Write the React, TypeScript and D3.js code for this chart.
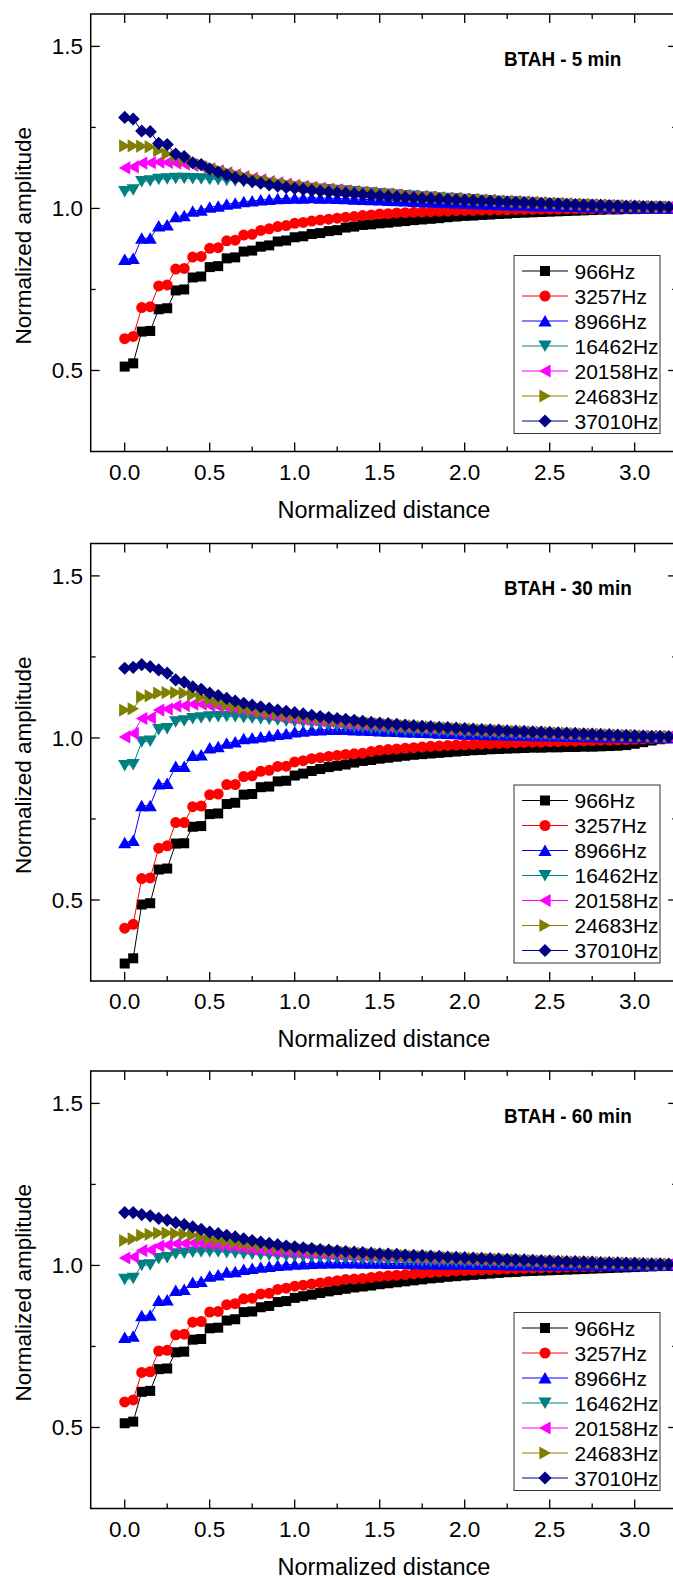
import React from "react";
import * as d3 from "d3";

// ---------- data ----------
const distance = [0,0.05,0.1,0.15,0.2,0.25,0.3,0.35,0.4,0.45,0.5,0.55,0.6,0.65,0.7,0.75,0.8,0.85,0.9,0.95,1,1.05,1.1,1.15,1.2,1.25,1.3,1.35,1.4,1.45,1.5,1.55,1.6,1.65,1.7,1.75,1.8,1.85,1.9,1.95,2,2.05,2.1,2.15,2.2,2.25,2.3,2.35,2.4,2.45,2.5,2.55,2.6,2.65,2.7,2.75,2.8,2.85,2.9,2.95,3,3.05,3.1,3.15,3.2];

const frequencies = ["966Hz", "3257Hz", "8966Hz", "16462Hz", "20158Hz", "24683Hz", "37010Hz"];
const panelTitles = ["BTAH - 5 min", "BTAH - 30 min", "BTAH - 60 min"];
const xTickLabels = [0, 0.5, 1.0, 1.5, 2.0, 2.5, 3.0];
const yTickLabels = [0.5, 1.0, 1.5];

// 5 min
const t5_966 = [0.512,0.522,0.620,0.622,0.689,0.692,0.747,0.750,0.787,0.790,0.819,0.822,0.846,0.849,0.867,0.870,0.882,0.886,0.898,0.901,0.911,0.914,0.921,0.924,0.930,0.933,0.941,0.944,0.949,0.951,0.954,0.956,0.959,0.961,0.964,0.966,0.968,0.970,0.973,0.975,0.977,0.978,0.980,0.981,0.983,0.984,0.986,0.987,0.988,0.989,0.990,0.991,0.992,0.993,0.994,0.995,0.996,0.997,0.997,0.998,0.998,0.999,0.999,1.000,1.000];
const t5_3257 = [0.598,0.605,0.694,0.697,0.761,0.764,0.813,0.815,0.850,0.852,0.877,0.879,0.900,0.902,0.918,0.920,0.932,0.937,0.944,0.947,0.954,0.957,0.961,0.964,0.967,0.970,0.973,0.975,0.978,0.980,0.983,0.984,0.986,0.987,0.988,0.989,0.990,0.991,0.992,0.993,0.994,0.994,0.995,0.995,0.996,0.996,0.997,0.997,0.997,0.998,0.998,0.998,0.999,0.999,0.999,0.999,1.000,1.000,1.000,1.000,1.000,1.000,1.000,1.000,1.000];
const t5_8966 = [0.843,0.846,0.908,0.908,0.946,0.949,0.975,0.978,0.992,0.995,1.004,1.007,1.013,1.016,1.021,1.023,1.026,1.028,1.030,1.031,1.032,1.032,1.033,1.032,1.032,1.031,1.030,1.029,1.028,1.027,1.026,1.025,1.024,1.023,1.022,1.021,1.020,1.019,1.018,1.017,1.016,1.015,1.014,1.013,1.012,1.011,1.010,1.010,1.009,1.008,1.008,1.007,1.006,1.006,1.005,1.005,1.004,1.004,1.003,1.003,1.002,1.002,1.002,1.001,1.001];
const t5_16462 = [1.052,1.057,1.083,1.085,1.090,1.091,1.093,1.093,1.092,1.091,1.090,1.089,1.087,1.085,1.083,1.080,1.078,1.075,1.073,1.070,1.067,1.065,1.062,1.060,1.058,1.056,1.054,1.052,1.050,1.048,1.046,1.044,1.042,1.040,1.038,1.036,1.035,1.033,1.031,1.030,1.028,1.027,1.025,1.024,1.022,1.021,1.020,1.019,1.017,1.016,1.015,1.014,1.013,1.012,1.011,1.010,1.009,1.008,1.007,1.006,1.006,1.005,1.004,1.004,1.003];
const t5_20158 = [1.125,1.128,1.140,1.141,1.143,1.142,1.140,1.137,1.133,1.128,1.122,1.116,1.110,1.104,1.098,1.093,1.088,1.083,1.079,1.075,1.071,1.068,1.065,1.062,1.059,1.057,1.054,1.052,1.050,1.048,1.046,1.044,1.042,1.040,1.038,1.037,1.035,1.033,1.032,1.030,1.029,1.027,1.026,1.025,1.023,1.022,1.021,1.020,1.019,1.017,1.016,1.015,1.014,1.013,1.012,1.011,1.010,1.009,1.008,1.008,1.007,1.006,1.005,1.005,1.004];
const t5_24683 = [1.193,1.193,1.192,1.190,1.178,1.168,1.160,1.152,1.144,1.136,1.128,1.120,1.113,1.106,1.100,1.094,1.089,1.084,1.080,1.076,1.072,1.069,1.066,1.063,1.060,1.058,1.055,1.053,1.051,1.049,1.047,1.045,1.043,1.041,1.039,1.038,1.036,1.034,1.033,1.031,1.030,1.028,1.027,1.026,1.024,1.023,1.022,1.021,1.019,1.018,1.017,1.016,1.015,1.014,1.013,1.012,1.011,1.010,1.009,1.008,1.007,1.006,1.006,1.005,1.004];
const t5_37010 = [1.281,1.276,1.239,1.237,1.201,1.197,1.168,1.160,1.141,1.135,1.122,1.112,1.103,1.095,1.089,1.083,1.078,1.073,1.069,1.065,1.062,1.059,1.056,1.053,1.051,1.049,1.047,1.045,1.043,1.041,1.039,1.037,1.036,1.034,1.033,1.031,1.030,1.029,1.027,1.026,1.025,1.024,1.023,1.022,1.021,1.020,1.019,1.018,1.017,1.016,1.015,1.014,1.013,1.012,1.011,1.010,1.010,1.009,1.008,1.007,1.007,1.006,1.005,1.005,1.004];

// 30 min
const t30_966 = [0.304,0.320,0.486,0.490,0.594,0.597,0.674,0.675,0.726,0.728,0.765,0.767,0.796,0.800,0.825,0.827,0.848,0.850,0.866,0.868,0.884,0.890,0.898,0.904,0.910,0.914,0.918,0.924,0.929,0.932,0.936,0.939,0.942,0.945,0.948,0.950,0.952,0.954,0.956,0.958,0.960,0.962,0.963,0.965,0.966,0.967,0.968,0.969,0.970,0.970,0.971,0.971,0.972,0.972,0.973,0.973,0.974,0.975,0.976,0.978,0.982,0.987,0.992,0.996,0.999];
const t30_3257 = [0.413,0.425,0.566,0.568,0.660,0.667,0.739,0.739,0.788,0.790,0.825,0.827,0.856,0.856,0.881,0.883,0.897,0.900,0.912,0.913,0.926,0.930,0.936,0.939,0.943,0.946,0.949,0.951,0.953,0.958,0.962,0.964,0.966,0.968,0.970,0.972,0.974,0.975,0.977,0.978,0.979,0.980,0.981,0.982,0.983,0.984,0.985,0.986,0.987,0.987,0.988,0.989,0.990,0.990,0.991,0.992,0.993,0.993,0.994,0.995,0.996,0.997,0.998,0.999,1.000];
const t30_8966 = [0.677,0.684,0.791,0.791,0.858,0.860,0.912,0.912,0.946,0.948,0.969,0.973,0.984,0.988,0.998,1.000,1.003,1.006,1.011,1.013,1.019,1.021,1.024,1.025,1.026,1.026,1.026,1.025,1.024,1.023,1.022,1.021,1.020,1.019,1.018,1.017,1.016,1.015,1.014,1.013,1.012,1.012,1.011,1.010,1.010,1.009,1.008,1.008,1.007,1.007,1.006,1.006,1.005,1.005,1.004,1.004,1.003,1.003,1.003,1.002,1.002,1.002,1.001,1.001,1.001];
const t30_16462 = [0.915,0.918,0.988,0.990,1.026,1.029,1.050,1.053,1.060,1.062,1.065,1.066,1.067,1.066,1.063,1.061,1.059,1.057,1.055,1.052,1.050,1.048,1.046,1.043,1.040,1.038,1.036,1.033,1.030,1.028,1.027,1.026,1.024,1.023,1.022,1.021,1.020,1.019,1.018,1.017,1.016,1.015,1.014,1.013,1.012,1.012,1.011,1.010,1.010,1.009,1.008,1.008,1.007,1.007,1.006,1.006,1.005,1.005,1.004,1.004,1.003,1.003,1.002,1.002,1.002];
const t30_20158 = [1.003,1.014,1.060,1.062,1.086,1.089,1.098,1.100,1.104,1.104,1.100,1.097,1.094,1.090,1.086,1.081,1.076,1.071,1.067,1.063,1.060,1.057,1.055,1.052,1.050,1.048,1.045,1.043,1.041,1.040,1.038,1.036,1.035,1.033,1.032,1.030,1.029,1.028,1.026,1.025,1.024,1.023,1.022,1.021,1.020,1.019,1.018,1.017,1.016,1.015,1.014,1.013,1.012,1.011,1.011,1.010,1.009,1.008,1.007,1.007,1.006,1.005,1.005,1.004,1.004];
const t30_24683 = [1.086,1.090,1.127,1.130,1.138,1.140,1.140,1.138,1.133,1.126,1.117,1.110,1.102,1.097,1.092,1.087,1.083,1.079,1.075,1.071,1.068,1.065,1.062,1.059,1.057,1.054,1.052,1.050,1.048,1.046,1.044,1.042,1.040,1.038,1.037,1.035,1.034,1.032,1.031,1.029,1.028,1.027,1.025,1.024,1.023,1.022,1.021,1.020,1.019,1.018,1.017,1.016,1.015,1.014,1.013,1.012,1.011,1.010,1.009,1.008,1.007,1.006,1.005,1.005,1.004];
const t30_37010 = [1.215,1.218,1.226,1.220,1.210,1.200,1.179,1.172,1.158,1.150,1.138,1.131,1.122,1.114,1.107,1.101,1.096,1.091,1.086,1.082,1.078,1.074,1.070,1.066,1.063,1.060,1.057,1.054,1.051,1.048,1.046,1.044,1.042,1.040,1.038,1.036,1.035,1.033,1.032,1.030,1.029,1.027,1.026,1.025,1.024,1.022,1.021,1.020,1.019,1.018,1.017,1.016,1.015,1.014,1.013,1.012,1.011,1.010,1.009,1.008,1.007,1.006,1.005,1.005,1.004];

// 60 min
const t60_966 = [0.513,0.518,0.610,0.613,0.680,0.682,0.732,0.734,0.771,0.773,0.806,0.808,0.830,0.834,0.856,0.858,0.871,0.875,0.887,0.890,0.900,0.905,0.910,0.915,0.920,0.924,0.928,0.932,0.935,0.938,0.942,0.945,0.948,0.951,0.954,0.957,0.960,0.962,0.965,0.967,0.969,0.971,0.973,0.975,0.977,0.979,0.980,0.982,0.983,0.984,0.985,0.986,0.987,0.988,0.989,0.990,0.991,0.992,0.993,0.994,0.995,0.996,0.997,0.998,0.999];
const t60_3257 = [0.579,0.585,0.670,0.672,0.736,0.738,0.786,0.788,0.825,0.827,0.856,0.858,0.879,0.882,0.897,0.899,0.912,0.914,0.926,0.930,0.936,0.939,0.943,0.946,0.950,0.953,0.957,0.958,0.960,0.963,0.966,0.968,0.970,0.972,0.974,0.976,0.978,0.980,0.981,0.983,0.984,0.985,0.986,0.987,0.988,0.989,0.990,0.991,0.992,0.993,0.994,0.994,0.995,0.996,0.996,0.997,0.997,0.998,0.998,0.999,0.999,0.999,1.000,1.000,1.000];
const t60_8966 = [0.778,0.782,0.845,0.847,0.892,0.894,0.923,0.926,0.948,0.951,0.967,0.971,0.979,0.981,0.988,0.991,0.995,0.997,1.000,1.002,1.004,1.005,1.006,1.007,1.008,1.008,1.008,1.008,1.007,1.007,1.007,1.006,1.006,1.006,1.005,1.005,1.005,1.004,1.004,1.004,1.004,1.003,1.003,1.003,1.003,1.002,1.002,1.002,1.002,1.002,1.001,1.001,1.001,1.001,1.001,1.001,1.000,1.000,1.000,1.000,1.000,1.000,1.000,1.000,1.000];
const t60_16462 = [0.957,0.960,1.000,1.002,1.021,1.024,1.036,1.038,1.041,1.042,1.043,1.042,1.040,1.039,1.036,1.035,1.033,1.032,1.030,1.029,1.028,1.027,1.026,1.025,1.024,1.022,1.021,1.020,1.019,1.018,1.017,1.016,1.015,1.014,1.014,1.013,1.012,1.012,1.011,1.010,1.010,1.009,1.009,1.008,1.008,1.007,1.007,1.006,1.006,1.006,1.005,1.005,1.005,1.004,1.004,1.004,1.003,1.003,1.003,1.003,1.002,1.002,1.002,1.002,1.001];
const t60_20158 = [1.023,1.026,1.046,1.048,1.060,1.063,1.067,1.068,1.069,1.068,1.066,1.063,1.060,1.057,1.053,1.050,1.048,1.046,1.043,1.042,1.041,1.039,1.038,1.037,1.035,1.034,1.033,1.032,1.031,1.030,1.029,1.028,1.027,1.026,1.025,1.024,1.023,1.022,1.021,1.020,1.019,1.018,1.018,1.017,1.016,1.015,1.014,1.014,1.013,1.012,1.012,1.011,1.010,1.010,1.009,1.009,1.008,1.007,1.007,1.006,1.006,1.005,1.005,1.004,1.004];
const t60_24683 = [1.077,1.082,1.093,1.096,1.100,1.100,1.098,1.096,1.093,1.088,1.082,1.078,1.074,1.070,1.067,1.064,1.062,1.059,1.057,1.054,1.052,1.050,1.048,1.046,1.044,1.042,1.041,1.039,1.038,1.036,1.035,1.033,1.032,1.031,1.029,1.028,1.027,1.026,1.025,1.024,1.023,1.022,1.021,1.020,1.019,1.018,1.017,1.016,1.015,1.014,1.013,1.013,1.012,1.011,1.010,1.010,1.009,1.008,1.008,1.007,1.006,1.006,1.005,1.005,1.004];
const t60_37010 = [1.163,1.163,1.157,1.153,1.145,1.140,1.132,1.126,1.119,1.111,1.103,1.098,1.093,1.088,1.082,1.077,1.072,1.068,1.064,1.060,1.057,1.054,1.052,1.049,1.047,1.045,1.043,1.041,1.040,1.038,1.036,1.035,1.034,1.032,1.031,1.030,1.029,1.028,1.026,1.025,1.024,1.023,1.022,1.021,1.020,1.019,1.018,1.017,1.016,1.015,1.014,1.013,1.012,1.012,1.011,1.010,1.009,1.009,1.008,1.007,1.007,1.006,1.005,1.005,1.004];

const panelSeries = [
  [t5_966, t5_3257, t5_8966, t5_16462, t5_20158, t5_24683, t5_37010],
  [t30_966, t30_3257, t30_8966, t30_16462, t30_20158, t30_24683, t30_37010],
  [t60_966, t60_3257, t60_8966, t60_16462, t60_20158, t60_24683, t60_37010],
];

// ---------- style ----------
const COLORS = ["#000000", "#ff0000", "#0000ff", "#008080", "#ff00ff", "#808000", "#000080"];
const SHAPES = ["square", "circle", "up", "down", "left", "right", "diamond"];
const FONT = "'Liberation Sans', Arial, Helvetica, sans-serif";

const W = 673, H = 1578;
const LEFT = 90.7, RIGHT = 677.2;
const PANEL_TOPS = [14, 543.5, 1071];
const PANEL_H = 437.5;

function Marker({ shape, x, y, color }: { shape: string; x: number; y: number; color: string }) {
  const t = `translate(${x},${y})`;
  switch (shape) {
    case "square":
      return <rect x={x - 5} y={y - 5} width={10} height={10} fill={color} />;
    case "circle":
      return <circle cx={x} cy={y} r={5.5} fill={color} />;
    case "up":
      return <path transform={t} d="M0,-5.9L6.6,5.6L-6.6,5.6Z" fill={color} />;
    case "down":
      return <path transform={t} d="M0,5.9L6.6,-5.6L-6.6,-5.6Z" fill={color} />;
    case "left":
      return <path transform={t} d="M-5.9,0L5.6,-6.6L5.6,6.6Z" fill={color} />;
    case "right":
      return <path transform={t} d="M5.9,0L-5.6,-6.6L-5.6,6.6Z" fill={color} />;
    default:
      return <path transform={t} d="M0,-6.6L6.6,0L0,6.6L-6.6,0Z" fill={color} />;
  }
}

function Panel({ idx }: { idx: number }) {
  const top = PANEL_TOPS[idx];
  const bottom = top + PANEL_H;
  const x = d3.scaleLinear().domain([-0.2, 3.25]).range([LEFT, RIGHT]);
  const y = d3.scaleLinear().domain([0.25, 1.6]).range([bottom, top]);
  const series = panelSeries[idx];
  const line = d3
    .line<number>()
    .x((_, i) => x(distance[i]))
    .y((v) => y(v));

  const xMinor = d3.range(0.25, 3.26, 0.5);
  const yMinor = [0.75, 1.25];
  const MAJ = 9, MIN = 5;

  const legX = 514, legW = 146, legH = 178;
  const legBottom = bottom - 18;
  const legTop = legBottom - legH;

  return (
    <g>
      {/* series */}
      {series.map((vals, s) => (
        <g key={s}>
          <path d={line(vals) || ""} fill="none" stroke={COLORS[s]} strokeWidth={1} />
          {vals.map((v, i) => (
            <Marker key={i} shape={SHAPES[s]} x={x(distance[i])} y={y(v)} color={COLORS[s]} />
          ))}
        </g>
      ))}

      {/* frame */}
      <rect x={LEFT} y={top} width={RIGHT - LEFT} height={PANEL_H} fill="none" stroke="#000" strokeWidth={1.5} />

      {/* x ticks bottom & top */}
      {xTickLabels.map((v) => (
        <g key={"xm" + v}>
          <line x1={x(v)} x2={x(v)} y1={bottom} y2={bottom - MAJ} stroke="#000" strokeWidth={1.3} />
          <line x1={x(v)} x2={x(v)} y1={top} y2={top + MAJ} stroke="#000" strokeWidth={1.3} />
          <text x={x(v)} y={bottom + 28} textAnchor="middle" fontSize={22.5} fontFamily={FONT} fill="#000">
            {v.toFixed(1)}
          </text>
        </g>
      ))}
      {xMinor.map((v) => (
        <g key={"xn" + v}>
          <line x1={x(v)} x2={x(v)} y1={bottom} y2={bottom - MIN} stroke="#000" strokeWidth={1.3} />
          <line x1={x(v)} x2={x(v)} y1={top} y2={top + MIN} stroke="#000" strokeWidth={1.3} />
        </g>
      ))}

      {/* y ticks left & right */}
      {yTickLabels.map((v) => (
        <g key={"ym" + v}>
          <line x1={LEFT} x2={LEFT + MAJ} y1={y(v)} y2={y(v)} stroke="#000" strokeWidth={1.3} />
          <line x1={RIGHT} x2={RIGHT - MAJ} y1={y(v)} y2={y(v)} stroke="#000" strokeWidth={1.3} />
          <text x={83} y={y(v) + 8} textAnchor="end" fontSize={22.5} fontFamily={FONT} fill="#000">
            {v.toFixed(1)}
          </text>
        </g>
      ))}
      {yMinor.map((v) => (
        <g key={"yn" + v}>
          <line x1={LEFT} x2={LEFT + MIN} y1={y(v)} y2={y(v)} stroke="#000" strokeWidth={1.3} />
          <line x1={RIGHT} x2={RIGHT - MIN} y1={y(v)} y2={y(v)} stroke="#000" strokeWidth={1.3} />
        </g>
      ))}

      {/* axis titles */}
      <text
        x={(LEFT + RIGHT) / 2}
        y={bottom + 66}
        textAnchor="middle"
        fontSize={23.5}
        fontFamily={FONT}
        fill="#000"
      >
        Normalized distance
      </text>
      <text
        transform={`translate(31,${(top + bottom) / 2 + 3}) rotate(-90)`}
        textAnchor="middle"
        fontSize={22.5}
        fontFamily={FONT}
        fill="#000"
      >
        Normalized amplitude
      </text>

      {/* panel annotation */}
      <text
        transform={`translate(504,${top + 51.5}) scale(0.9,1)`}
        fontSize={21}
        fontWeight="bold"
        fontFamily={FONT}
        fill="#000"
      >
        {panelTitles[idx]}
      </text>

      {/* legend */}
      <rect x={legX} y={legTop} width={legW} height={legH} fill="#fff" stroke="#333" strokeWidth={1} />
      {frequencies.map((f, s) => {
        const ly = legTop + 15.5 + s * 25;
        return (
          <g key={f}>
            <line x1={legX + 8} x2={legX + 54} y1={ly} y2={ly} stroke={COLORS[s]} strokeWidth={1} />
            <Marker shape={SHAPES[s]} x={legX + 31} y={ly} color={COLORS[s]} />
            <text x={legX + 60.5} y={ly + 7.5} fontSize={21} fontFamily={FONT} fill="#000">
              {f}
            </text>
          </g>
        );
      })}
    </g>
  );
}

export default function App() {
  return (
    <svg
      width={W}
      height={H}
      viewBox={`0 0 ${W} ${H}`}
      style={{ position: "absolute", left: 0, top: 0, background: "#fff" }}
    >
      <rect x={0} y={0} width={W} height={H} fill="#fff" />
      {[0, 1, 2].map((i) => (
        <Panel key={i} idx={i} />
      ))}
    </svg>
  );
}
